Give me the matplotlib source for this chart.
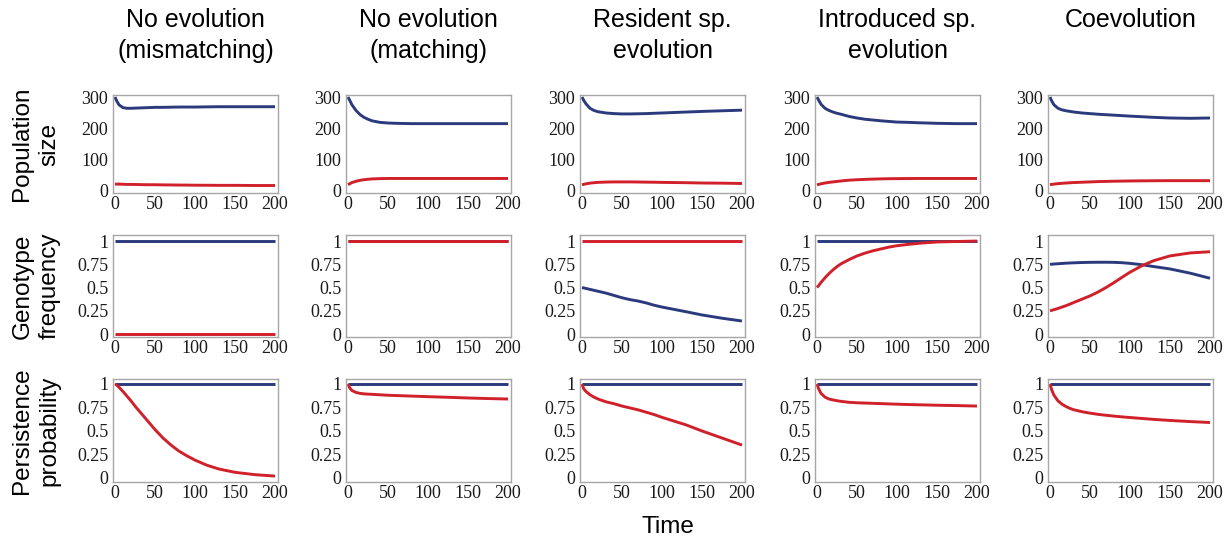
import matplotlib
matplotlib.use("Agg")
import matplotlib.pyplot as plt

# time points
t = [0, 2, 5, 10, 15, 20, 25, 30, 40, 50, 60, 70, 80, 90, 100, 115, 130, 150, 175, 200]

col_titles = ["No evolution\n(mismatching)", "No evolution\n(matching)",
              "Resident sp.\nevolution", "Introduced sp.\nevolution", "Coevolution"]
row_titles = ["Population\nsize", "Genotype\nfrequency", "Persistence\nprobability"]

# population size (blue = resident, red = introduced)
pop_blue = [
    [300, 288, 275, 266, 264, 264, 264.5, 265, 266, 267, 267, 267.5, 268, 268, 268, 268.5, 269, 269, 269, 269],
    [300, 290, 275, 257, 244, 235, 229, 224, 219, 217, 216, 215.5, 215, 215, 215, 215, 215, 215, 215, 215],
    [300, 290, 278, 264, 257, 253, 251, 249, 247, 246, 246, 246.5, 247, 248, 249, 250.5, 252, 254, 256, 258],
    [300, 290, 277, 264, 257, 252, 248, 245, 238, 233, 229, 226.5, 224, 222, 220, 219, 217.5, 216, 215, 215],
    [300, 288, 275, 264, 259, 256, 254, 252, 249, 247, 245, 243.5, 242, 240.5, 239, 237, 235, 233, 232, 233],
]
pop_red = [
    [22, 22, 22, 21.5, 21, 21, 20.8, 20.5, 20, 20, 19.5, 19.3, 19, 18.8, 18.5, 18.3, 18, 18, 17.5, 17.5],
    [20, 23, 27, 31, 34, 36, 37.5, 38.5, 39.5, 40, 40, 40, 40, 40, 40, 40, 40, 40, 40, 40],
    [20, 21, 23, 25, 26.5, 27.5, 28, 28.5, 29, 29, 29, 28.7, 28.3, 28, 27.5, 27, 26.5, 25.5, 25, 24],
    [20, 21, 23, 25.5, 27.5, 29, 30.5, 32, 34.5, 36, 37, 38, 38.7, 39.2, 39.5, 39.8, 40, 40, 40, 40],
    [20, 21, 22, 23.5, 24.5, 25.5, 26.3, 27, 28, 29, 30, 30.6, 31.2, 31.6, 32, 32.4, 32.7, 33, 33, 33],
]

# genotype frequency
gen_blue = [
    [1] * 20,
    [1] * 20,
    [0.5, 0.496, 0.49, 0.48, 0.47, 0.46, 0.45, 0.44, 0.415, 0.39, 0.37, 0.355, 0.335, 0.31, 0.29, 0.265, 0.24, 0.205, 0.17, 0.14],
    [1] * 20,
    [0.75, 0.751, 0.753, 0.756, 0.759, 0.762, 0.764, 0.766, 0.769, 0.771, 0.772, 0.772, 0.771, 0.767, 0.76, 0.745, 0.725, 0.70, 0.655, 0.60],
]
gen_red = [
    [0] * 20,
    [1] * 20,
    [1] * 20,
    [0.5, 0.52, 0.555, 0.605, 0.65, 0.69, 0.725, 0.755, 0.8, 0.84, 0.87, 0.895, 0.915, 0.935, 0.95, 0.965, 0.978, 0.99, 0.995, 1.0],
    [0.25, 0.254, 0.262, 0.275, 0.29, 0.305, 0.322, 0.34, 0.375, 0.41, 0.452, 0.5, 0.553, 0.61, 0.665, 0.735, 0.79, 0.84, 0.872, 0.885],
]

# persistence probability
per_blue = [[1] * 20 for _ in range(5)]
per_red = [
    [1.0, 0.99, 0.965, 0.92, 0.87, 0.82, 0.765, 0.715, 0.615, 0.515, 0.425, 0.35, 0.285, 0.235, 0.19, 0.135, 0.095, 0.06, 0.035, 0.02],
    [1.0, 0.96, 0.93, 0.91, 0.9, 0.895, 0.892, 0.89, 0.885, 0.88, 0.877, 0.874, 0.871, 0.868, 0.865, 0.861, 0.857, 0.851, 0.845, 0.84],
    [1.0, 0.95, 0.92, 0.885, 0.86, 0.84, 0.825, 0.81, 0.79, 0.765, 0.745, 0.725, 0.70, 0.675, 0.645, 0.605, 0.565, 0.5, 0.425, 0.35],
    [1.0, 0.95, 0.9, 0.86, 0.84, 0.83, 0.822, 0.815, 0.805, 0.8, 0.797, 0.794, 0.791, 0.788, 0.785, 0.781, 0.778, 0.774, 0.77, 0.765],
    [1.0, 0.94, 0.88, 0.82, 0.785, 0.76, 0.74, 0.725, 0.705, 0.69, 0.677, 0.667, 0.658, 0.65, 0.643, 0.633, 0.623, 0.612, 0.6, 0.59],
]

blue = "#2b3a7c"
red = "#d0202a"
frame = "#a6a6a6"

W, H = 1228, 541
fig = plt.figure(figsize=(W / 100, H / 100), dpi=100)

lefts = [113, 346, 580, 815, 1048]
tops = [95, 235, 379]
heights = [98, 102, 103]
aw = 165

rows = [(pop_blue, pop_red, [0, 100, 200, 300], ["0", "100", "200", "300"], (-6.4, 306.4)),
        (gen_blue, gen_red, [0, 0.25, 0.5, 0.75, 1], ["0", "0.25", "0.5", "0.75", "1"], (-0.032, 1.065)),
        (per_blue, per_red, [0, 0.25, 0.5, 0.75, 1], ["0", "0.25", "0.5", "0.75", "1"], (-0.043, 1.053))]

for r, (bl, rd, yt, ytl, ylim) in enumerate(rows):
    for c in range(5):
        ax = fig.add_axes([lefts[c] / W, 1 - (tops[r] + heights[r]) / H, aw / W, heights[r] / H])
        ax.plot(t, bl[c], color=blue, lw=2.1, solid_capstyle="butt")
        ax.plot(t, rd[c], color=red, lw=2.1, solid_capstyle="butt")
        ax.set_xlim(-2.5, 203.75)
        ax.set_ylim(*ylim)
        ax.set_xticks([0, 50, 100, 150, 200])
        ax.set_xticklabels(["0", "50", "100", "150", "200"], family="Liberation Serif", fontsize=13)
        ax.set_yticks(yt)
        ax.set_yticklabels(ytl, family="Liberation Serif", fontsize=13)
        ax.tick_params(axis="y", length=0, pad=3.5, colors="#1a1a1a")
        ax.tick_params(axis="x", length=0, pad=2, colors="#1a1a1a")
        for s in ax.spines.values():
            s.set_color(frame)
            s.set_linewidth(1.0)

# column headings
for c in range(5):
    fig.text((lefts[c] + aw / 2) / W, 1 - 8 / H, col_titles[c], ha="center", va="top",
             family="Liberation Sans", fontsize=18, linespacing=1.35)

# row headings
for r, lab in enumerate(row_titles):
    fig.text(36 / W, 1 - (tops[r] + heights[r] / 2) / H, lab, ha="center", va="center",
             rotation=90, family="Liberation Sans", fontsize=17.5, linespacing=1.3)

fig.text(668 / W, 1 - 527 / H, "Time", ha="center", va="center",
         family="Liberation Sans", fontsize=17.5)

fig.savefig("out.png", dpi=100)
